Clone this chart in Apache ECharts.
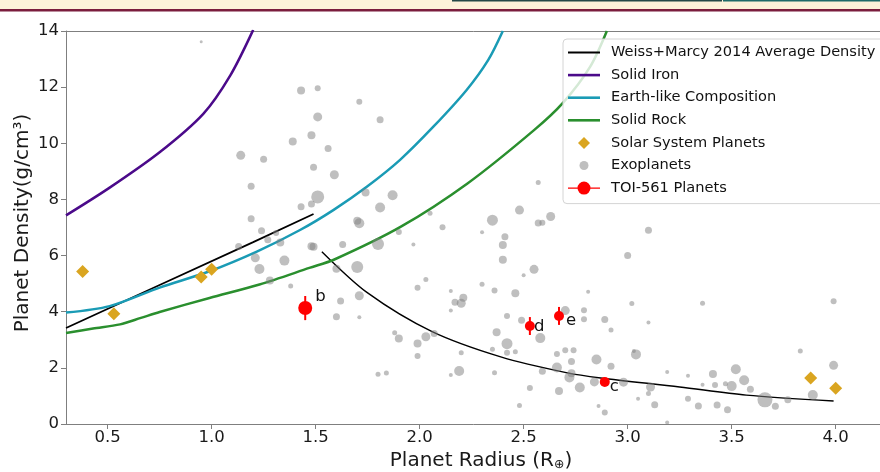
<!DOCTYPE html>
<html><head><meta charset="utf-8">
<script src="https://cdn.jsdelivr.net/npm/echarts@6/dist/echarts.min.js"></script>
<style>html,body{margin:0;padding:0;background:#fff}#c{width:880px;height:472px}</style>
</head><body><div id="c"></div>
<script>
// ---------- data ----------
const radiusTicks = [0.5, 1.0, 1.5, 2.0, 2.5, 3.0, 3.5, 4.0];
const densityTicks = [0, 2, 4, 6, 8, 10, 12, 14];

const weissMarcyRocky = [[0.30,3.42],[0.75,4.95],[1.20,6.48],[1.49,7.48]];
const weissMarcyGas = [[1.53,6.14],[1.75,4.67],[2.06,3.29],[2.39,2.39],[2.71,1.82],[2.87,1.64],[3.25,1.32],[3.57,1.03],[3.99,0.82]];
const solidIron = [[0.30,7.43],[0.51,8.42],[0.75,9.68],[0.96,11.05],[1.09,12.42],[1.20,14.04]];
const earthLike = [[0.30,3.97],[0.51,4.20],[0.75,4.86],[0.99,5.44],[1.22,6.15],[1.425,6.91],[1.585,7.62],[1.746,8.45],[1.906,9.41],[2.066,10.59],[2.226,11.90],[2.33,12.97],[2.40,14.0]];
const solidRock = [[0.30,3.24],[0.43,3.40],[0.56,3.55],[0.66,3.78],[0.75,3.99],[0.99,4.49],[1.23,4.97],[1.47,5.56],[1.59,5.86],[1.91,7.03],[2.23,8.57],[2.55,10.47],[2.69,11.45],[2.82,12.73],[2.90,14.0]];

const solarRadius = [0.38, 0.53, 0.95, 1.00, 3.88, 4.00];
const solarDensity = [5.43, 3.93, 5.24, 5.51, 1.64, 1.27];

// radius, density, relative marker magnitude
const exoplanets = [
[0.95,13.62,3],[1.43,11.88,8],[1.51,11.96,6],[1.71,11.48,6],[1.81,10.84,7],[1.51,10.94,9],
[1.39,10.06,8],[1.48,10.29,8],[1.56,9.81,7],[1.14,9.57,9],[1.25,9.43,7],[1.49,9.15,7],
[1.59,8.88,9],[1.19,8.47,7],[1.51,8.09,13],[1.43,7.74,7],[1.48,7.84,7],[1.74,8.25,8],
[1.87,8.15,10],[1.81,7.71,10],[2.05,7.51,5],[1.70,7.24,8],[1.71,7.15,10],[1.19,7.31,7],
[1.24,6.88,7],[1.31,6.80,6],[1.27,6.56,7],[1.33,6.47,8],[1.48,6.33,8],[1.49,6.31,8],
[1.13,6.32,7],[1.63,6.39,7],[1.80,6.41,12],[1.90,6.84,6],[1.97,6.39,4],[1.21,5.92,9],
[1.35,5.82,10],[1.23,5.52,10],[1.28,5.11,8],[1.60,5.53,8],[1.70,5.59,12],[1.38,4.92,5],
[2.03,5.15,5],[1.99,4.85,6],[1.62,4.38,7],[1.71,4.57,9],[1.60,3.82,7],[1.71,3.80,4],
[2.11,7.01,6],[2.30,6.83,4],[2.35,7.26,11],[2.48,7.62,9],[2.57,8.60,5],[2.57,7.16,7],
[2.59,7.17,6],[2.63,7.39,9],[2.41,6.67,7],[2.40,6.38,8],[2.40,5.85,8],[3.00,6.00,7],
[2.55,5.51,9],[2.50,5.30,4],[2.15,4.74,4],[2.30,4.98,5],[2.36,4.76,6],[2.46,4.66,8],
[2.21,4.50,8],[2.17,4.34,7],[2.20,4.30,9],[2.15,4.04,4],[2.42,3.85,6],[2.70,4.04,9],
[2.79,4.05,6],[2.79,3.73,6],[2.89,3.72,7],[2.92,3.35,5],[3.02,4.29,5],[2.81,4.71,4],
[1.88,3.25,5],[1.90,3.05,8],[1.99,2.87,8],[2.03,3.11,9],[2.07,3.22,7],[1.99,2.42,6],
[2.20,2.54,5],[2.37,3.27,8],[2.42,2.86,11],[2.35,2.66,5],[2.42,2.54,6],[2.46,2.57,5],
[2.58,3.06,10],[2.66,2.49,6],[2.70,2.63,6],[2.74,2.63,6],[2.73,2.23,7],[2.85,2.30,10],
[2.92,2.06,7],[3.04,2.48,10],[2.66,2.01,10],[2.73,1.81,8],[2.72,1.66,10],[2.59,1.88,7],
[2.19,1.89,10],[2.36,1.83,5],[2.15,1.75,4],[1.84,1.82,5],[1.80,1.77,5],[2.77,1.30,10],
[2.84,1.50,9],[2.98,1.49,9],[2.53,1.28,6],[2.67,1.18,8],[2.48,0.66,5],[2.86,0.64,4],
[2.89,0.41,6],[3.05,0.90,4],[2.49,3.70,7],[3.10,6.90,7],[3.36,4.30,5],[3.99,4.37,6],
[3.10,3.62,4],[3.83,2.60,5],[3.03,2.60,4],[3.99,2.09,9],[3.19,1.85,4],[3.29,1.72,4],
[3.41,1.78,8],[3.52,1.95,10],[3.56,1.56,10],[3.11,1.32,9],[3.10,1.09,5],[3.36,1.40,4],
[3.42,1.39,6],[3.47,1.43,5],[3.50,1.35,10],[3.59,1.24,7],[3.66,0.86,15],[3.71,0.63,7],
[3.77,0.86,7],[3.89,1.03,10],[3.13,0.69,7],[3.29,0.90,6],[3.34,0.64,7],[3.43,0.68,7],
[3.48,0.51,7],[3.19,0.05,4]
];

const toiNames = ['b', 'c', 'd', 'e'];
const toiRadius = [1.45, 2.89, 2.53, 2.67];
const toiDensity = [4.13, 1.50, 3.49, 3.85];
const toiErr = [0.43, 0.12, 0.32, 0.32];
const toiMarker = [14, 10, 10, 10];

// ---------- styling ----------
const FONT = 'DejaVu Sans';
const toiLabelOffset = { b: [-2, -11], c: [-5, 5], d: [-6, 1], e: [-3, 5] };
const LEG = 'Weiss+Marcy 2014 Average Density';
const lineIcon = w => 'path://M0,0M32,14M0,' + (7 - w / 2) + 'H32V' + (7 + w / 2) + 'H0Z';

const chart = echarts.init(document.getElementById('c'), null, { renderer: 'canvas' });

const axisGray = '#7f7f7f';
const option = {
  animation: false,
  backgroundColor: '#ffffff',
  textStyle: { fontFamily: FONT },
  graphic: [
    { type: 'rect', left: 0, top: 0, z: 100, shape: { width: 880, height: 9 }, style: { fill: '#fdf2d9' } },
    { type: 'rect', left: 0, top: 9, z: 100, shape: { width: 880, height: 2.5 }, style: { fill: '#7b1d3d' } },
    { type: 'rect', left: 452, top: 0, z: 101, shape: { width: 270, height: 1.5 }, style: { fill: '#244846' } },
    { type: 'rect', left: 723, top: 0, z: 101, shape: { width: 157, height: 1.5 }, style: { fill: '#1f6a68' } }
  ],
  grid: { left: 66, top: 31, right: -16, bottom: 48, containLabel: false, outerBoundsMode: 'none' },
  xAxis: [{
    type: 'value', min: 0.3, max: 4.29, position: 'bottom',
    axisLine: { show: true, lineStyle: { color: axisGray, width: 1 } },
    axisTick: { show: true, customValues: radiusTicks, length: 5, lineStyle: { color: axisGray } },
    axisLabel: { customValues: radiusTicks, formatter: v => Number(v).toFixed(1), fontSize: 16.5, color: '#1a1a1a', margin: 5, fontFamily: FONT },
    splitLine: { show: false },
    name: '{a|Planet Radius (R}{s|⊕}{a|)}',
    nameLocation: 'middle', nameGap: 23,
    nameTextStyle: {
      rich: {
        a: { fontSize: 20, fontFamily: FONT, color: '#1a1a1a' },
        s: { fontSize: 12.5, fontFamily: FONT, color: '#1a1a1a', lineHeight: 6, verticalAlign: 'bottom' }
      }
    }
  }, {
    type: 'value', min: 0.3, max: 4.29, position: 'top',
    axisLine: { show: true, lineStyle: { color: axisGray, width: 1 } },
    axisTick: { show: false }, axisLabel: { show: false }, splitLine: { show: false }
  }],
  yAxis: {
    type: 'value', min: 0, max: 14, interval: 2,
    axisLine: { show: true, lineStyle: { color: axisGray, width: 1 } },
    axisTick: { show: true, length: 5, lineStyle: { color: axisGray } },
    axisLabel: { fontSize: 16.5, color: '#1a1a1a', margin: 7, fontFamily: FONT },
    splitLine: { show: false },
    name: 'Planet Density(g/cm³)',
    nameLocation: 'middle', nameGap: 33, nameMoveOverlap: false,
    nameTextStyle: { fontSize: 20, fontFamily: FONT, color: '#1a1a1a', padding: [0, 0, 0, 9] }
  },
  legend: {
    orient: 'vertical', left: 563, top: 39,
    itemWidth: 32, itemHeight: 14, itemGap: 7.6,
    padding: [6, 12, 8, 5],
    backgroundColor: 'rgba(255,255,255,0.8)',
    borderColor: '#d4d4d4', borderWidth: 1, borderRadius: 4,
    selectedMode: false,
    textStyle: { fontSize: 14.6, fontFamily: FONT, color: '#111', padding: [0, 0, 0, 6] },
    data: [
      { name: LEG, icon: lineIcon(2) },
      { name: 'Solid Iron', icon: lineIcon(2.6) },
      { name: 'Earth-like Composition', icon: lineIcon(2.6) },
      { name: 'Solid Rock', icon: lineIcon(2.6) },
      { name: 'Solar System Planets', icon: 'path://M0,0M32,14M16,1L22,7L16,13L10,7Z' },
      { name: 'Exoplanets', icon: 'path://M0,0M32,14M11.5,7a4.5,4.5 0 1 1 9,0a4.5,4.5 0 1 1 -9,0Z' },
      { name: 'TOI-561 Planets', icon: 'path://M0,0M32,14M0,6.3H10V7.7H0Z M22,6.3H32V7.7H22Z M9.5,7a6.5,6.5 0 1 1 13,0a6.5,6.5 0 1 1 -13,0Z' }
    ]
  },
  series: [
    { type: 'line', name: LEG, data: weissMarcyRocky, symbol: 'none', smooth: false, z: 3,
      lineStyle: { color: '#000', width: 1.8 }, itemStyle: { color: '#000' } },
    { type: 'line', name: LEG, data: weissMarcyGas, symbol: 'none', smooth: 0.3, z: 3,
      lineStyle: { color: '#000', width: 1.4 }, itemStyle: { color: '#000' } },
    { type: 'line', name: 'Solid Iron', data: solidIron, symbol: 'none', smooth: 0.3, z: 3,
      lineStyle: { color: '#4b0a8a', width: 2.5 }, itemStyle: { color: '#4b0a8a' } },
    { type: 'line', name: 'Earth-like Composition', data: earthLike, symbol: 'none', smooth: 0.3, z: 3,
      lineStyle: { color: '#1a9bb5', width: 2.5 }, itemStyle: { color: '#1a9bb5' } },
    { type: 'line', name: 'Solid Rock', data: solidRock, symbol: 'none', smooth: 0.3, z: 3,
      lineStyle: { color: '#2a8f2e', width: 2.5 }, itemStyle: { color: '#2a8f2e' } },
    { type: 'scatter', name: 'Solar System Planets', symbol: 'diamond', symbolSize: 13, z: 4,
      data: solarRadius.map((r, i) => [r, solarDensity[i]]),
      itemStyle: { color: '#daa520', opacity: 1 } },
    { type: 'scatter', name: 'Exoplanets', symbol: 'circle', z: 5,
      data: exoplanets, symbolSize: v => v[2],
      itemStyle: { color: 'rgba(128,128,128,0.5)', opacity: 1 } },
    { type: 'scatter', name: 'TOI-561 Planets', symbol: 'circle', z: 7,
      data: toiNames.map((n, i) => ({
        name: n, value: [toiRadius[i], toiDensity[i]], symbolSize: toiMarker[i],
        label: { offset: toiLabelOffset[n] }
      })),
      itemStyle: { color: '#ff0000', opacity: 1 },
      label: { show: true, position: 'right', formatter: p => p.name, fontSize: 16.5, fontFamily: FONT, color: '#111' } },
    { type: 'custom', name: 'TOI-561 Planets', z: 6,
      data: toiNames.map((n, i) => [toiRadius[i], toiDensity[i], toiErr[i]]),
      encode: { x: 0, y: 1 },
      renderItem: (params, api) => {
        const x = api.value(0), y = api.value(1), e = api.value(2);
        const p1 = api.coord([x, y + e]);
        const p2 = api.coord([x, y - e]);
        return { type: 'line', shape: { x1: p1[0], y1: p1[1], x2: p2[0], y2: p2[1] },
                 style: { stroke: '#ff0000', lineWidth: 2 } };
      } }
  ]
};
chart.setOption(option);
</script>
</body></html>
